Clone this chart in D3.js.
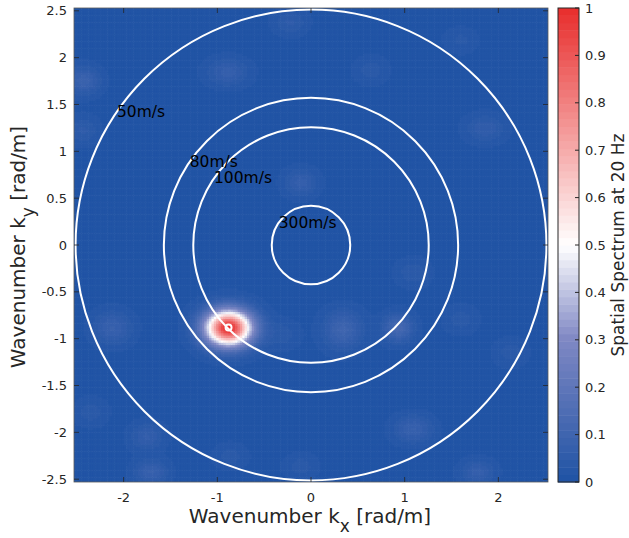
<!DOCTYPE html>
<html>
<head>
<meta charset="utf-8">
<script src="https://cdn.jsdelivr.net/npm/d3@7"></script>
<style>
  body { margin: 0; background: #fff; }
  svg { display: block; }
  text { font-family: "DejaVu Sans", sans-serif; }
</style>
</head>
<body>
<svg id="chart" width="629" height="538"></svg>
<script>
// ---- data -------------------------------------------------------------
const frequency = 20;                       // Hz
const velocities = [50, 80, 100, 300];      // m/s reference circles
const velocityLabels = ["50m/s", "80m/s", "100m/s", "300m/s"];
const xTicks = [-2, -1, 0, 1, 2];
const yTicks = [-2.5, -2, -1.5, -1, -0.5, 0, 0.5, 1, 1.5, 2, 2.5];
const colorTicks = [0, 0.1, 0.2, 0.3, 0.4, 0.5, 0.6, 0.7, 0.8, 0.9, 1];

// spectral lobes of the beamformer output: centre (kx, ky), level, widths
const lobeKx  = [-0.88, -2.43, -0.89, -2.43, -0.11, -0.22,  0.34,  0.93,  1.09,  1.78,  1.09,  1.60,  2.13, -2.12, -1.75, -1.71, -2.35, -0.11, -0.86,  1.86,  0.64,  1.60, -0.30];
const lobeKy  = [-0.88,  1.76,  1.85,  1.23,  0.67,  2.38, -0.90, -0.88, -1.96, -2.42, -0.29, -0.79, -1.14, -0.88, -2.04, -2.42, -1.78, -2.36, -2.25,  1.25,  1.87,  2.19, -0.95];
const lobeAmp = [ 1.00,  0.08,  0.06,  0.04,  0.06,  0.04,  0.09,  0.11,  0.07,  0.06,  0.035, 0.03,  0.03,  0.07,  0.055, 0.07,  0.03,  0.03,  0.03,  0.05,  0.03,  0.025, 0.03];
const lobeWx  = [ 0.17,  0.12,  0.15,  0.11,  0.12,  0.12,  0.14,  0.11,  0.14,  0.12,  0.12,  0.12,  0.12,  0.14,  0.12,  0.12,  0.12,  0.12,  0.12,  0.14,  0.12,  0.12,  0.12];
const lobeWy  = [ 0.13,  0.10,  0.10,  0.10,  0.10,  0.09,  0.14,  0.10,  0.10,  0.09,  0.10,  0.10,  0.10,  0.12,  0.10,  0.09,  0.10,  0.09,  0.09,  0.10,  0.10,  0.09,  0.10];
const noiseFloor = 0.01;

// detected maximum
const peakKx = -0.88, peakKy = -0.88;

// ---- layout -----------------------------------------------------------
const kMax = 2.53;
const plot = { left: 74, top: 8, right: 548, bottom: 482 };
const cbar = { left: 558, right: 579 };
const axisColor = "#262626";

const x = d3.scaleLinear().domain([-kMax, kMax]).range([plot.left, plot.right]);
const y = d3.scaleLinear().domain([-kMax, kMax]).range([plot.bottom, plot.top]);
const yc = d3.scaleLinear().domain([0, 1]).range([plot.bottom, plot.top]);

// blue - lavender - white - red map with 64 discrete levels
const nLevels = 64;
const baseMap = d3.scaleLinear()
  .domain([0, 0.3, 0.5, 1])
  .range(["#2154a5", "#8088c4", "#ffffff", "#e8302f"])
  .interpolate(d3.interpolateRgb);
const colorOf = v => {
  const i = Math.max(0, Math.min(nLevels - 1, Math.floor(v * nLevels)));
  return baseMap(i / (nLevels - 1));
};

const svg = d3.select("#chart");

// ---- spectrum grid ----------------------------------------------------
const nCells = 200;
const step = 2 * kMax / nCells;
const cells = [];
for (let i = 0; i < nCells; i++) {
  for (let j = 0; j < nCells; j++) {
    const kx = -kMax + (i + 0.5) * step;
    const ky = -kMax + (j + 0.5) * step;
    let v = noiseFloor;
    for (let l = 0; l < lobeKx.length; l++) {
      const dx = (kx - lobeKx[l]) / lobeWx[l];
      const dy = (ky - lobeKy[l]) / lobeWy[l];
      v += lobeAmp[l] * Math.exp(-0.5 * (dx * dx + dy * dy));
    }
    cells.push({ kx0: kx - step / 2, ky0: ky - step / 2, v: Math.min(1, v) });
  }
}

const cw = plot.right - plot.left, ch = plot.bottom - plot.top;
const canvas = document.createElement("canvas");
canvas.width = cw; canvas.height = ch;
const ctx = canvas.getContext("2d");
cells.forEach(c => {
  const px0 = x(c.kx0) - plot.left, px1 = x(c.kx0 + step) - plot.left;
  const py0 = y(c.ky0 + step) - plot.top, py1 = y(c.ky0) - plot.top;
  ctx.fillStyle = colorOf(c.v);
  ctx.fillRect(px0, py0, px1 - px0 + 0.6, py1 - py0 + 0.6);
});
svg.append("image")
  .attr("x", plot.left).attr("y", plot.top)
  .attr("width", cw).attr("height", ch)
  .attr("href", canvas.toDataURL());

// ---- velocity circles ---------------------------------------------------
const radius = v => 2 * Math.PI * frequency / v;
svg.append("clipPath").attr("id", "plotClip")
  .append("rect").attr("x", plot.left).attr("y", plot.top).attr("width", cw).attr("height", ch);
const g = svg.append("g").attr("clip-path", "url(#plotClip)");
g.selectAll("circle.vel").data(velocities).join("circle")
  .attr("class", "vel")
  .attr("cx", x(0)).attr("cy", y(0))
  .attr("r", v => x(radius(v)) - x(0))
  .attr("fill", "none").attr("stroke", "#fff").attr("stroke-width", 2);

const labelAngle = 145.5 * Math.PI / 180;
g.selectAll("text.vel").data(velocities).join("text")
  .attr("class", "vel")
  .attr("x", v => x(radius(v) * Math.cos(labelAngle)))
  .attr("y", v => y(radius(v) * Math.sin(labelAngle)))
  .attr("dominant-baseline", "central")
  .attr("font-size", 15.5)
  .attr("fill", "#000")
  .text((v, i) => velocityLabels[i]);

// peak marker
g.append("circle")
  .attr("cx", x(peakKx)).attr("cy", y(peakKy)).attr("r", 3)
  .attr("fill", "none").attr("stroke", "#fff").attr("stroke-width", 2);

// ---- axes -------------------------------------------------------------
const fmt = d => String(d).replace("\u2212", "-");
const tickLen = 5;
const axes = svg.append("g").attr("stroke", axisColor).attr("stroke-width", 0.8);
axes.append("rect")
  .attr("x", plot.left).attr("y", plot.top).attr("width", cw).attr("height", ch)
  .attr("fill", "none").attr("stroke", "#5a5a5a");
xTicks.forEach(t => {
  axes.append("line").attr("x1", x(t)).attr("x2", x(t)).attr("y1", plot.bottom).attr("y2", plot.bottom - tickLen);
  axes.append("line").attr("x1", x(t)).attr("x2", x(t)).attr("y1", plot.top).attr("y2", plot.top + tickLen);
});
yTicks.forEach(t => {
  axes.append("line").attr("y1", y(t)).attr("y2", y(t)).attr("x1", plot.left).attr("x2", plot.left + tickLen);
  axes.append("line").attr("y1", y(t)).attr("y2", y(t)).attr("x1", plot.right).attr("x2", plot.right - tickLen);
});
svg.append("g").selectAll("text").data(xTicks).join("text")
  .attr("x", d => x(d)).attr("y", 497)
  .attr("text-anchor", "middle").attr("dominant-baseline", "central")
  .attr("font-size", 13).attr("fill", axisColor)
  .text(fmt);
svg.append("g").selectAll("text").data(yTicks).join("text")
  .attr("x", 67).attr("y", d => y(d))
  .attr("text-anchor", "end").attr("dominant-baseline", "central")
  .attr("font-size", 13).attr("fill", axisColor)
  .text(fmt);

// axis titles
const xt = svg.append("text")
  .attr("x", 310).attr("y", 523).attr("text-anchor", "middle")
  .attr("font-size", 20).attr("fill", axisColor);
xt.append("tspan").text("Wavenumber k");
xt.append("tspan").attr("dy", 9).attr("font-size", 17).text("x");
xt.append("tspan").attr("dy", -9).text(" [rad/m]");

const yt = svg.append("text")
  .attr("transform", "translate(25,247) rotate(-90)")
  .attr("text-anchor", "middle")
  .attr("font-size", 20).attr("fill", axisColor);
yt.append("tspan").text("Wavenumber k");
yt.append("tspan").attr("dy", 9).attr("font-size", 17).text("y");
yt.append("tspan").attr("dy", -9).text(" [rad/m]");

// ---- colorbar -------------------------------------------------------------
const levels = d3.range(nLevels);
svg.append("g").selectAll("rect").data(levels).join("rect")
  .attr("x", cbar.left)
  .attr("width", cbar.right - cbar.left)
  .attr("y", i => yc((i + 1) / nLevels))
  .attr("height", i => yc(i / nLevels) - yc((i + 1) / nLevels) + 0.5)
  .attr("fill", i => baseMap(i / (nLevels - 1)));
svg.append("rect")
  .attr("x", cbar.left).attr("y", plot.top)
  .attr("width", cbar.right - cbar.left).attr("height", ch)
  .attr("fill", "none").attr("stroke", axisColor).attr("stroke-width", 1);
svg.append("g").selectAll("line").data(colorTicks).join("line")
  .attr("x1", cbar.right).attr("x2", cbar.right - 4)
  .attr("y1", d => yc(d)).attr("y2", d => yc(d))
  .attr("stroke", axisColor).attr("stroke-width", 1);
svg.append("g").selectAll("text").data(colorTicks).join("text")
  .attr("x", 585).attr("y", d => yc(d))
  .attr("dominant-baseline", "central")
  .attr("font-size", 13).attr("fill", axisColor)
  .text(d => String(d));
svg.append("text")
  .attr("transform", "translate(624,245) rotate(-90)")
  .attr("text-anchor", "middle")
  .attr("font-size", 17).attr("fill", axisColor)
  .text("Spatial Spectrum at " + frequency + " Hz");
</script>
</body>
</html>
